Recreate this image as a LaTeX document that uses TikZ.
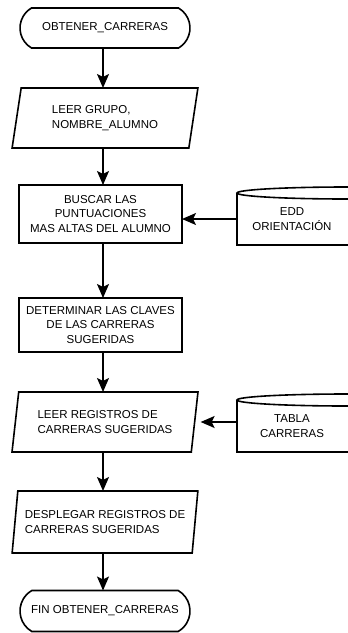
\documentclass[tikz,border=0pt]{standalone}
\usepackage{fontspec}
\setmainfont{Liberation Sans}
\usepackage{tikz}
\usetikzlibrary{positioning, arrows.meta, shapes.geometric, shapes.misc}

\tikzset{
  linea/.style={line width=1.6pt},
  terminal/.style={linea, draw, rounded rectangle, rounded rectangle arc length=120,
        minimum width=170pt, minimum height=40pt, inner sep=0pt, outer sep=0pt, align=center},
  proceso/.style={linea, draw, rectangle, minimum width=163pt,
        inner sep=0pt, outer sep=0pt, align=center},
  entrada/.style={linea, draw, trapezium, trapezium left angle=77, trapezium right angle=103,
        trapezium stretches=true, minimum width=186pt, minimum height=60pt,
        inner sep=0pt, outer sep=0pt, align=left},
  almacen/.style={minimum width=110pt, minimum height=52pt, inner sep=0pt, outer sep=0pt, align=center},
  flecha/.style={linea, -{Stealth[length=14pt, width=12pt, inset=3pt]}}
}

\begin{document}
\begin{tikzpicture}[x=1pt, y=-1pt, font=\fontsize{11.5}{14.5}\selectfont]
  \useasboundingbox (0,0) rectangle (348,633);
  \coordinate (eje) at (103,0);

  \node[terminal] (ini) at (105,28) {OBTENER\_CARRERAS};
  \node[entrada] (leer) at (105,118) {LEER GRUPO,\\NOMBRE\_ALUMNO};
  \node[proceso, minimum height=58pt] (buscar) at (100.5,214)
        {BUSCAR LAS\\PUNTUACIONES\\MAS ALTAS DEL ALUMNO};
  \node[almacen] (edd) at (292,219) {EDD\\ORIENTACIÓN};
  \node[proceso, minimum height=54pt] (determinar) at (100.5,325)
        {DETERMINAR LAS CLAVES\\DE LAS CARRERAS\\SUGERIDAS};
  \node[entrada] (leerreg) at (105,422) {LEER REGISTROS DE\\CARRERAS SUGERIDAS};
  \node[almacen] (tabla) at (292,426) {TABLA\\CARRERAS};
  \node[entrada, minimum height=62pt] (desplegar) at (105,522)
        {DESPLEGAR REGISTROS DE\\CARRERAS SUGERIDAS};
  \node[terminal, minimum height=41pt] (fin) at (105,611) {FIN OBTENER\_CARRERAS};

  \draw[linea] (edd.north east) ellipse [x radius=110pt, y radius=6pt];
  \draw[linea] (edd.north west) -- (edd.south west) -- ([xshift=5pt]edd.south east);
  \draw[linea] (tabla.north east) ellipse [x radius=110pt, y radius=6pt];
  \draw[linea] (tabla.north west) -- (tabla.south west) -- ([xshift=5pt]tabla.south east);

  \draw[flecha] (eje |- ini.south) -- (eje |- leer.north);
  \draw[flecha] (eje |- leer.south) -- (eje |- buscar.north);
  \draw[flecha] (edd.west) -- (edd.west -| buscar.east);
  \draw[flecha] (eje |- buscar.south) -- (eje |- determinar.north);
  \draw[flecha] (eje |- determinar.south) -- (eje |- leerreg.north);
  \draw[flecha, shorten >=6pt] (tabla.west |- leerreg.east) -- (leerreg.east);
  \draw[flecha] (eje |- leerreg.south) -- (eje |- desplegar.north);
  \draw[flecha] (eje |- desplegar.south) -- (eje |- fin.north);
\end{tikzpicture}
\end{document}
